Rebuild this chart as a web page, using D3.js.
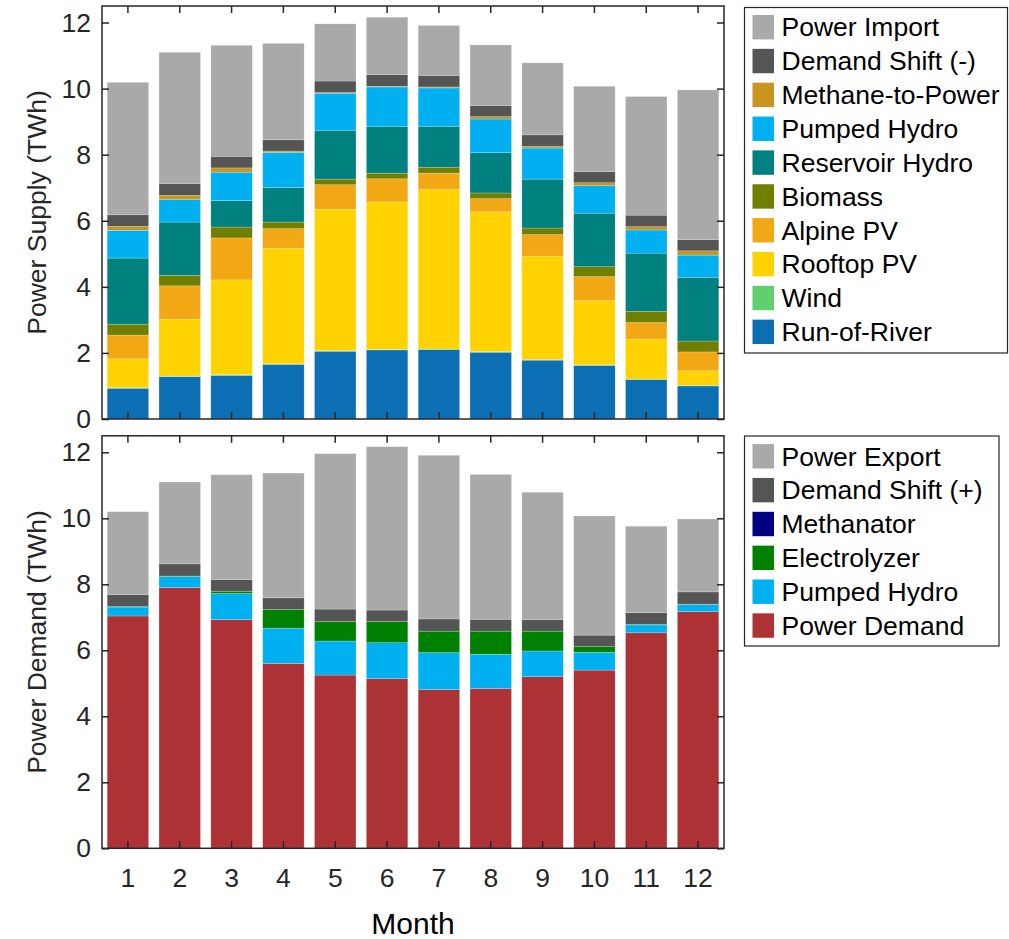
<!DOCTYPE html>
<html><head><meta charset="utf-8">
<script src="https://cdn.jsdelivr.net/npm/d3@7"></script>
<style>
html,body{margin:0;padding:0;background:#fff;}
text{font-family:"Liberation Sans",Arial,sans-serif;}
</style></head>
<body><svg id="c" width="1009" height="939"></svg>
<script>
const months = [1,2,3,4,5,6,7,8,9,10,11,12];
const yTicks = [0,2,4,6,8,10,12];

// Supply series (bottom to top)
const runOfRiver   = [0.93,1.28,1.32,1.65,2.05,2.09,2.10,2.02,1.78,1.62,1.19,1.00];
const wind         = [0.02,0.02,0.02,0.02,0.02,0.02,0.02,0.02,0.02,0.02,0.02,0.02];
const rooftopPV    = [0.87,1.72,2.87,3.50,4.28,4.46,4.84,4.23,3.13,1.94,1.21,0.44];
const alpinePV     = [0.72,1.01,1.27,0.59,0.74,0.70,0.48,0.40,0.65,0.73,0.50,0.57];
const biomass      = [0.33,0.32,0.33,0.20,0.17,0.17,0.18,0.17,0.20,0.30,0.34,0.33];
const reservoir    = [2.00,1.61,0.80,1.05,1.48,1.42,1.24,1.22,1.48,1.62,1.76,1.93];
const pumpedGen    = [0.84,0.68,0.86,1.06,1.12,1.19,1.16,1.02,0.94,0.83,0.70,0.67];
const methaneToPow = [0.12,0.13,0.13,0.04,0.02,0.02,0.03,0.07,0.05,0.09,0.10,0.13];
const shiftMinus   = [0.35,0.36,0.35,0.34,0.35,0.35,0.35,0.34,0.35,0.34,0.35,0.34];
const powerImport  = [4.01,3.97,3.36,2.92,1.73,1.74,1.51,1.83,2.18,2.58,3.59,4.53];

// Demand series (bottom to top)
const powerDemand  = [7.04,7.90,6.93,5.60,5.25,5.14,4.81,4.84,5.20,5.40,6.53,7.17];
const pumpedLoad   = [0.27,0.33,0.79,1.07,1.03,1.09,1.12,1.04,0.78,0.54,0.24,0.22];
const electrolyzer = [0.02,0.02,0.07,0.57,0.59,0.64,0.65,0.70,0.60,0.17,0.02,0.01];
const methanator   = [0,0,0,0,0,0,0,0,0,0,0,0];
const shiftPlus    = [0.36,0.37,0.35,0.35,0.38,0.35,0.37,0.36,0.35,0.35,0.35,0.37];
const powerExport  = [2.51,2.48,3.18,3.78,4.71,4.95,4.96,4.39,3.86,3.61,2.62,2.21];

const supplySeries = [
  {name:"Run-of-River", values:runOfRiver, color:"#0c6eb3"},
  {name:"Wind", values:wind, color:"#60cf6f"},
  {name:"Rooftop PV", values:rooftopPV, color:"#ffd200"},
  {name:"Alpine PV", values:alpinePV, color:"#f2a814"},
  {name:"Biomass", values:biomass, color:"#707f00"},
  {name:"Reservoir Hydro", values:reservoir, color:"#00807f"},
  {name:"Pumped Hydro", values:pumpedGen, color:"#00b0f0"},
  {name:"Methane-to-Power", values:methaneToPow, color:"#c8961e"},
  {name:"Demand Shift (-)", values:shiftMinus, color:"#555555"},
  {name:"Power Import", values:powerImport, color:"#a9a9a9"}
];
const demandSeries = [
  {name:"Power Demand", values:powerDemand, color:"#ad3235"},
  {name:"Pumped Hydro", values:pumpedLoad, color:"#00b0f0"},
  {name:"Electrolyzer", values:electrolyzer, color:"#008000"},
  {name:"Methanator", values:methanator, color:"#000080"},
  {name:"Demand Shift (+)", values:shiftPlus, color:"#555555"},
  {name:"Power Export", values:powerExport, color:"#a9a9a9"}
];

const svg = d3.select("#c");
const left = 102, right = 724;
const x = d3.scaleBand().domain(months).range([left,right]).paddingInner(0.2).paddingOuter(0.1);

function panel(series, top, bottom, ylabel, showX, legend){
  const y = d3.scaleLinear().domain([0,12.5]).range([bottom, top]);
  const g = svg.append("g");
  const keys = series.map((s,i)=>"k"+i);
  const rows = months.map((m,j)=>{const r={month:m}; series.forEach((s,i)=>r["k"+i]=s.values[j]); return r;});
  const stacked = d3.stack().keys(keys)(rows);
  stacked.forEach((layer,i)=>{
    g.append("g").attr("fill",series[i].color)
      .selectAll("rect").data(layer).join("rect")
      .attr("x",d=>x(d.data.month)).attr("width",x.bandwidth())
      .attr("y",d=>y(d[1])).attr("height",d=>Math.max(0,y(d[0])-y(d[1])))
      .attr("stroke","rgba(255,255,255,0.35)").attr("stroke-width",0.6);
  });
  const ax = "#262626", tl = 7;
  const yl = g.append("g").attr("transform",`translate(${left},0)`)
    .call(d3.axisLeft(y).tickValues(yTicks).tickSizeInner(-tl).tickSizeOuter(0).tickPadding(11));
  const yr = g.append("g").attr("transform",`translate(${right},0)`)
    .call(d3.axisRight(y).tickValues(yTicks).tickSizeInner(-tl).tickSizeOuter(0).tickFormat(""));
  const xb = g.append("g").attr("transform",`translate(0,${bottom})`)
    .call(d3.axisBottom(x).tickSizeInner(-tl).tickSizeOuter(0).tickPadding(20).tickFormat(showX?d3.format("d"):""));
  const xt = g.append("g").attr("transform",`translate(0,${top})`)
    .call(d3.axisTop(x).tickSizeInner(-tl).tickSizeOuter(0).tickFormat(""));
  [yl,yr,xb,xt].forEach(a=>{
    a.select(".domain").remove();
    a.selectAll("line").attr("stroke",ax).attr("stroke-width",1.5);
    a.selectAll("text").attr("fill",ax).style("font-size","26.5px").style("font-family","Liberation Sans, Arial, sans-serif");
  });
  g.append("rect").attr("x",left).attr("y",top).attr("width",right-left).attr("height",bottom-top)
    .attr("fill","none").attr("stroke",ax).attr("stroke-width",1.5);
  g.append("text").attr("transform",`translate(45.5,${(top+bottom)/2}) rotate(-90)`)
    .attr("text-anchor","middle").attr("fill",ax).style("font-size","26.5px").text(ylabel);

  // legend
  const lg = svg.append("g");
  lg.append("rect").attr("x",legend.x).attr("y",legend.y).attr("width",legend.w).attr("height",legend.h)
    .attr("fill","#fff").attr("stroke","#262626").attr("stroke-width",1.2);
  const items = series.slice().reverse();
  items.forEach((s,i)=>{
    const cy = legend.first + i*33.85;
    lg.append("rect").attr("x",legend.x+8).attr("y",cy-12.2).attr("width",21.5).attr("height",24.4).attr("fill",s.color);
    lg.append("text").attr("x",legend.x+37).attr("y",cy).attr("dy","0.35em").attr("fill","#000")
      .style("font-size","26.5px").text(s.name);
  });
}

panel(supplySeries, 6, 419, "Power Supply (TWh)", false, {x:744.5,y:7.5,w:263,h:345.5,first:27.2});
panel(demandSeries, 435.8, 848.3, "Power Demand (TWh)", true, {x:744.5,y:436,w:254.5,h:210,first:456.3});

svg.append("text").attr("x",(left+right)/2).attr("y",934).attr("text-anchor","middle")
  .attr("fill","#000").style("font-size","30px").text("Month");
</script></body></html>
